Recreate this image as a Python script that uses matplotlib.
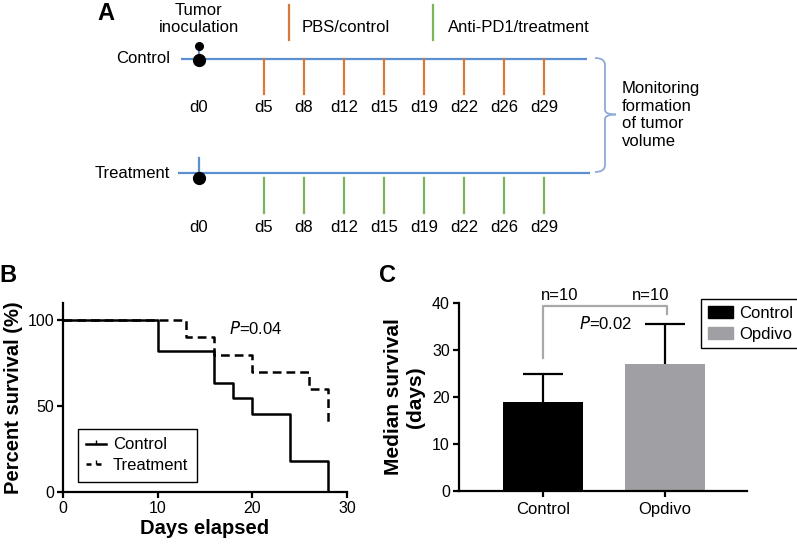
import matplotlib
matplotlib.use('Agg')
import matplotlib.pyplot as plt
from matplotlib.path import Path
from matplotlib.patches import PathPatch, Patch
from matplotlib.lines import Line2D

plt.rcParams['font.family'] = ['Liberation Sans', 'DejaVu Sans']

# ---------------- data ----------------
days = [0, 5, 8, 12, 15, 19, 22, 26, 29]
day_labels = [f"d{d}" for d in days]
timeline_groups = ["Control", "Treatment"]

km_control_t = [0, 10, 16, 18, 20, 24, 28]
km_control_s = [100, 81.8, 63.6, 54.5, 45.5, 18.2, 0]
km_treat_t = [0, 13, 16, 20, 26, 28]
km_treat_s = [100, 90, 80, 70, 60, 40]
km_labels = ["Control", "Treatment"]
p_km = "0.04"

bar_groups = ["Control", "Opdivo"]
median_survival = [19, 27]
median_err = [6, 8.5]
n_per_group = [10, 10]
p_bar = "0.02"

# ---------------- style ----------------
BLUE = '#5b8fcf'
ORANGE = '#d9793a'
GREEN = '#7ab55c'
BRACE = '#8eaad6'
GRAY_BAR = '#a0a0a4'
GRAY_LINE = '#a8a8a8'

W, H = 797, 545
fig = plt.figure(figsize=(W / 100, H / 100), dpi=100)

# ---------------- panel A (schematic, pixel layout) ----------------
axa = fig.add_axes([0, 0, 1, 1])
axa.set_xlim(0, W)
axa.set_ylim(H, 0)
axa.axis('off')

def xpos(i):
    # schematic slot layout: d0 alone, then evenly spaced slots
    return 199 if i == 0 else 264 + 40 * (i - 1)

fsA = 12
axa.text(106, 14, "A", fontsize=17, fontweight='bold', ha='center', va='center')
axa.text(199, 19, "Tumor\ninoculation", fontsize=fsA, ha='center', va='center', linespacing=1.12)
axa.plot([289, 289], [5, 40], color=ORANGE, lw=1.6)
axa.text(302, 28, "PBS/control", fontsize=fsA, ha='left', va='center')
axa.plot([433, 433], [5, 40], color=GREEN, lw=1.6)
axa.text(448, 28, "Anti-PD1/treatment", fontsize=fsA, ha='left', va='center')

rows = [
    dict(y=58.5, x0=181, x1=587, col=ORANGE, lab_y=108, stem=(46, 58.5), dot=60, small=46),
    dict(y=173, x0=178, x1=590, col=GREEN, lab_y=228, stem=(158, 173), dot=178, small=None),
]
for name, r in zip(timeline_groups, rows):
    axa.text(170, r['y'], name, fontsize=fsA, ha='right', va='center')
    axa.plot([r['x0'], r['x1']], [r['y'], r['y']], color=BLUE, lw=1.6, solid_capstyle='butt')
    axa.plot([199, 199], list(r['stem']), color=BLUE, lw=1.6)
    for i, lab in enumerate(day_labels):
        x = xpos(i)
        if i > 0:
            y0 = r['y'] + (0 if r['col'] == ORANGE else 5)
            axa.plot([x, x], [y0, y0 + 35], color=r['col'], lw=1.6)
        axa.text(x, r['lab_y'], lab, fontsize=fsA, ha='center', va='center')
    axa.plot([199], [r['dot']], 'o', color='black', ms=8.5, zorder=5)
    if r['small'] is not None:
        axa.plot([199], [r['small']], 'o', color='black', ms=5.5, zorder=5)

# brace
verts1 = [(595, 58), (605, 58), (605, 65), (605, 110), (605, 114.5), (616, 114.5)]
codes1 = [Path.MOVETO, Path.CURVE3, Path.CURVE3, Path.LINETO, Path.CURVE3, Path.CURVE3]
verts2 = [(595, 172), (605, 172), (605, 165), (605, 119), (605, 114.5), (616, 114.5)]
for v in (verts1, verts2):
    axa.add_patch(PathPatch(Path(v, codes1), fill=False, edgecolor=BRACE, lw=1.3))
axa.text(622, 115, "Monitoring\nformation\nof tumor\nvolume", fontsize=fsA, ha='left',
         va='center', linespacing=1.2)

axa.text(8, 275, "B", fontsize=17, fontweight='bold', ha='center', va='center')
axa.text(388, 275, "C", fontsize=17, fontweight='bold', ha='center', va='center')

# ---------------- panel B (Kaplan-Meier) ----------------
axb = fig.add_axes([63 / W, 53 / H, 284 / W, 189 / H])
axb.step(km_control_t, km_control_s, where='post', color='black', lw=1.8, label=km_labels[0])
axb.step(km_treat_t, km_treat_s, where='post', color='black', lw=1.8,
         linestyle=(0, (3.5, 2)), label=km_labels[1])
axb.set_xlim(0, 30)
axb.set_ylim(0, 110)
axb.set_xticks([0, 10, 20, 30])
axb.set_yticks([0, 50, 100])
for s in ('top', 'right'):
    axb.spines[s].set_visible(False)
for s in ('left', 'bottom'):
    axb.spines[s].set_linewidth(1.6)
axb.tick_params(width=1.6, length=4, labelsize=11.5, pad=2.5)
axb.set_xlabel("Days elapsed", fontsize=14.5, fontweight='bold', labelpad=2)
axb.set_ylabel("Percent survival (%)", fontsize=14.5, fontweight='bold', labelpad=3)
axb.text(17.5, 95, r"$\it{P}$=" + p_km, fontsize=12, ha='left', va='center')
legb = axb.legend(handles=[Line2D([0], [0], color='black', lw=1.8, marker=2, ms=3),
                           Line2D([0], [0], color='black', lw=1.8, linestyle=(0, (2, 2)),
                                  marker=2, ms=3)],
                  labels=km_labels, loc='upper left', numpoints=1,
                  bbox_to_anchor=(78 / W, 1 - 429 / H), bbox_transform=fig.transFigure,
                  fontsize=12, frameon=True, fancybox=False, edgecolor='black',
                  framealpha=1, borderpad=0.5, handlelength=1.2, handletextpad=0.4,
                  labelspacing=0.35, borderaxespad=0)
legb.get_frame().set_linewidth(1.0)

# ---------------- panel C (bar chart) ----------------
axc = fig.add_axes([459 / W, 54 / H, 288 / W, 188 / H])
xs = list(range(len(bar_groups)))
bar_cols = ['black', GRAY_BAR]
axc.bar(xs, median_survival, width=0.656, color=bar_cols, zorder=2)
tops = [m + e for m, e in zip(median_survival, median_err)]
axc.vlines(xs, median_survival, tops, color='black', lw=1.6, zorder=3)
axc.plot(xs, tops, ls='none', marker='_', ms=29, mew=1.6, color='black', zorder=3)
axc.set_xlim(-0.689, 1.672)
axc.set_ylim(0, 40)
axc.set_yticks([0, 10, 20, 30, 40])
axc.set_xticks(xs)
axc.set_xticklabels(bar_groups)
for s in ('top', 'right'):
    axc.spines[s].set_visible(False)
for s in ('left', 'bottom'):
    axc.spines[s].set_linewidth(1.6)
axc.tick_params(width=1.6, length=4, labelsize=11.5, pad=2.5)
axc.tick_params(axis='x', labelsize=12, pad=4)
axc.set_ylabel("Median survival\n(days)", fontsize=15, fontweight='bold', labelpad=5,
               linespacing=1.2)
# significance bracket
axc.plot([xs[0], xs[0], xs[1] + 0.02, xs[1] + 0.02], [28.3, 39.3, 39.3, 37.7],
         color=GRAY_LINE, lw=1.6, clip_on=False, zorder=4)
n_offsets = [0.14, -0.115]
for x, n, off in zip(xs, n_per_group, n_offsets):
    axc.text(x + off, 41.6, f"n={n}", fontsize=12, ha='center',
             va='center', clip_on=False)
axc.text(0.516, 35.7, r"$\it{P}$=" + p_bar, fontsize=12, ha='center', va='center')
legc = axc.legend(handles=[Patch(color=c) for c in bar_cols], labels=bar_groups,
                  loc='upper left', bbox_to_anchor=(701 / W, 1 - 299 / H),
                  bbox_transform=fig.transFigure, fontsize=12, frameon=True,
                  fancybox=False, edgecolor='black', framealpha=1, borderpad=0.4,
                  handlelength=1.5, handleheight=0.7, handletextpad=0.4,
                  labelspacing=0.35, borderaxespad=0)
legc.get_frame().set_linewidth(1.0)

fig.savefig('out.png', dpi=100)
